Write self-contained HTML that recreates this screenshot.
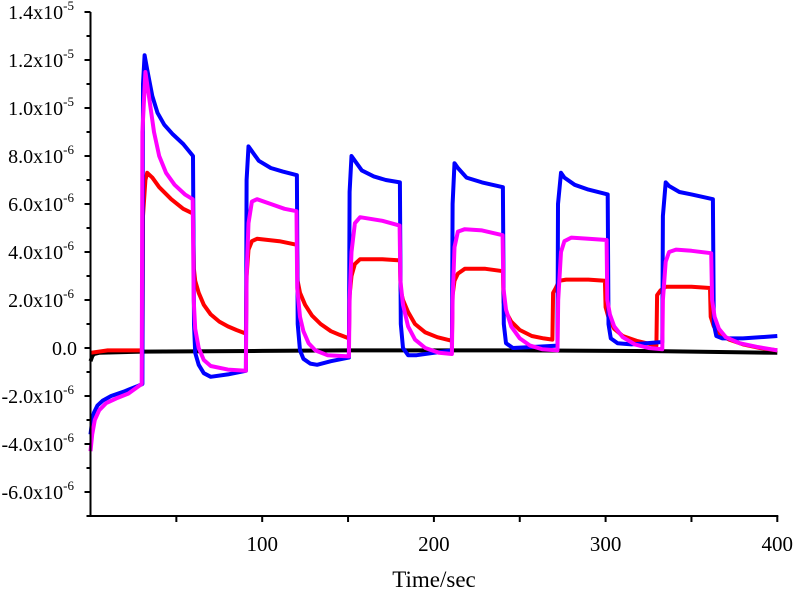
<!DOCTYPE html>
<html><head><meta charset="utf-8">
<style>
html,body{margin:0;padding:0;background:#fff;}
svg{display:block;font-family:"Liberation Serif",serif;}
</style></head>
<body>
<svg id="chart" width="794" height="599" viewBox="0 0 794 599" xmlns="http://www.w3.org/2000/svg">
<g id="series"></g>
<g id="axes"></g>
<text x="434" y="587" font-size="23" text-anchor="middle">Time/sec</text>
</svg>
<script>
// values in units of 1e-6 ; time in seconds
const xTicks = [50,100,150,200,250,300,350,400];
const xLabels = [100,200,300,400];
const yTicks = [-7,-6,-5,-4,-3,-2,-1,0,1,2,3,4,5,6,7,8,9,10,11,12,13,14];
const yLabelVals = [-6,-4,-2,0,2,4,6,8,10,12,14];
const yLabelText = ["-6.0x10","-4.0x10","-2.0x10","0.0","2.0x10","4.0x10","6.0x10","8.0x10","1.0x10","1.2x10","1.4x10"];
const yLabelExp = ["-6","-6","-6","","-6","-6","-6","-6","-5","-5","-5"];

const blackT = [0,1,2,5,30,100,150,250,330,400];
const blackV = [-0.55,-0.35,-0.25,-0.2,-0.15,-0.12,-0.1,-0.1,-0.13,-0.2];

const redT = [0,10,30.3,30.6,32,33,36,40,47,54,59.7,60.2,61,63,66,70,75,80,85,90.5,
 90.9,92,94,97,110,120.2,120.6,122,125,129,134,140,145,150.5,
 150.9,152,154,157,170,180.2,180.6,182,185,189,195,202,210.5,
 210.9,212,214,218,230,240.2,240.6,242,245,250,257,264,269,
 269.4,271,273,277,290,299.6,300,302,305,310,318,329.6,
 330,332,335,350,360.8,361.2,363,367,372,380,390,400];
const redV = [-0.2,-0.1,-0.1,5.5,7.0,7.3,7.1,6.7,6.2,5.8,5.6,3.3,2.8,2.3,1.8,1.4,1.1,0.9,0.75,0.6,
 3.0,4.1,4.45,4.55,4.45,4.3,2.8,2.3,1.8,1.35,1.0,0.7,0.55,0.4,
 2.2,3.0,3.5,3.7,3.7,3.65,2.4,2.0,1.5,1.0,0.65,0.45,0.3,
 2.2,2.8,3.1,3.3,3.3,3.2,1.9,1.5,1.1,0.75,0.5,0.4,0.35,
 2.3,2.5,2.8,2.85,2.85,2.8,1.7,1.2,0.8,0.5,0.3,0.1,
 2.2,2.4,2.55,2.55,2.5,1.3,0.9,0.55,0.35,0.15,0.0,-0.1];

const blueT = [0,1,2,4,7,12,20,27,30.2,30.6,31.5,33,36,39,43,48,54,59.7,60.3,61,63,66,70,80,90.5,
 90.9,92,94,98,105,112,120.2,120.7,122,124,128,132,140,150.5,
 150.9,152,154,158,165,172,180.2,180.7,182,185,190,200,210.5,
 210.9,212,214,219,228,240.2,240.7,242,246,260,272,
 272.3,274,276,282,290,301.2,301.7,303,307,315,333,
 333.4,335,337,343,350,362.5,363,364.5,368,380,400];
const blueV = [-3.6,-3.0,-2.7,-2.4,-2.2,-2.0,-1.8,-1.6,-1.5,11.0,12.2,11.6,10.5,9.8,9.3,8.9,8.5,8.0,1.0,-0.2,-0.7,-1.05,-1.2,-1.1,-0.95,
 7.0,8.4,8.2,7.8,7.5,7.35,7.2,1.0,-0.1,-0.45,-0.65,-0.7,-0.55,-0.4,
 6.5,8.0,7.8,7.4,7.15,7.0,6.9,1.0,0.0,-0.3,-0.3,-0.2,-0.1,
 6.0,7.7,7.5,7.1,6.9,6.7,1.0,0.2,0.0,0.05,0.1,
 6.0,7.3,7.1,6.8,6.6,6.4,1.0,0.4,0.2,0.15,0.25,
 5.5,6.9,6.75,6.5,6.4,6.2,1.0,0.5,0.4,0.4,0.5];

const magT = [0,1,2.5,5,9,15,22,29.8,30.2,32,34,37,40,44,49,55,59.5,60.1,61,63,66,70,80,90.5,
 90.9,92,94,97,105,113,120,120.4,122,124,127,131,138,150.5,
 150.9,152,154,157,170,180,180.5,182,185,189,195,203,210.5,
 210.9,212,214,218,228,240,240.5,242,245,250,256,263,272,
 272.4,274,276,280,290,300.6,301,302.5,305,310,317,325,333,
 333.4,335,337,341,350,361.5,362,363.5,366,370,378,388,400];
const magV = [-4.3,-3.6,-3.0,-2.6,-2.3,-2.1,-1.9,-1.5,9.0,11.5,10.5,9.0,8.0,7.3,6.8,6.4,6.2,2.0,0.8,0.0,-0.5,-0.75,-0.9,-0.95,
 3.0,5.2,6.1,6.2,6.0,5.8,5.7,2.5,1.3,0.7,0.2,-0.1,-0.3,-0.35,
 2.0,4.0,5.2,5.45,5.3,5.1,2.8,1.8,0.9,0.35,0.0,-0.2,-0.25,
 2.0,4.2,4.85,4.95,4.9,4.7,2.5,1.6,0.9,0.4,0.1,-0.05,-0.1,
 2.0,4.0,4.45,4.6,4.55,4.5,2.0,1.4,0.9,0.45,0.15,0.0,-0.05,
 2.0,3.6,4.0,4.1,4.05,3.95,2.0,1.3,0.8,0.45,0.2,0.05,-0.1];

const X0=90.5, XS=1.717, Y0=348, YS=24;
function xs(t){return X0+t*XS;}
function ys(v){return Y0-v*YS;}
const NS="http://www.w3.org/2000/svg";
const sg=document.getElementById('series');
const ag=document.getElementById('axes');

function drawLine(T,V,color,name){
  const p=document.createElementNS(NS,'path');
  let d='';
  const n=Math.min(T.length,V.length);
  for(let i=0;i<n;i++){d+=(i?'L':'M')+xs(T[i]).toFixed(1)+','+ys(V[i]).toFixed(1);}
  p.setAttribute('d',d);
  p.setAttribute('fill','none');
  p.setAttribute('stroke',color);
  p.setAttribute('stroke-width','4');
  p.setAttribute('stroke-linejoin','round');
  
  
  sg.appendChild(p);
}
drawLine(blackT,blackV,'#000','black-series-line');
drawLine(redT,redV,'#ff0000','red-series-line');
drawLine(blueT,blueV,'#0000ff','blue-series-line');
drawLine(magT,magV,'#ff00ff','magenta-series-line');

function addLine(x1,y1,x2,y2,w,name){
  const l=document.createElementNS(NS,'line');
  l.setAttribute('x1',x1);l.setAttribute('y1',y1);l.setAttribute('x2',x2);l.setAttribute('y2',y2);
  l.setAttribute('stroke','#000');l.setAttribute('stroke-width',w);
  
  
  ag.appendChild(l);
}
const yBottomPx=ys(-7), yTopPx=ys(14);
addLine(X0,yTopPx,X0,yBottomPx+1,2,'y-axis-line');
addLine(X0-1,yBottomPx,xs(400)+1,yBottomPx,2,'x-axis-line');
xTicks.forEach(t=>addLine(xs(t),yBottomPx,xs(t),yBottomPx+6,2,'x-tick'));
yTicks.forEach(v=>{const major=yLabelVals.indexOf(v)>=0;addLine(X0-(major?6:4),ys(v),X0,ys(v),2,'y-tick');});
xLabels.forEach(t=>{
  const tx=document.createElementNS(NS,'text');
  tx.setAttribute('x',xs(t));tx.setAttribute('y',yBottomPx+35);
  tx.setAttribute('font-size','21');tx.setAttribute('text-anchor','middle');
  tx.textContent=t;
  
  
  ag.appendChild(tx);
});
yLabelVals.forEach((v,i)=>{
  const tx=document.createElementNS(NS,'text');
  tx.setAttribute('x',74);tx.setAttribute('y',ys(v)+7);
  tx.setAttribute('font-size','20');tx.setAttribute('text-anchor','end');
  const a=document.createElementNS(NS,'tspan');a.textContent=yLabelText[i];tx.appendChild(a);
  if(yLabelExp[i]){const b=document.createElementNS(NS,'tspan');b.setAttribute('font-size','13');b.setAttribute('dy','-9');b.textContent=yLabelExp[i];tx.appendChild(b);}
  else{tx.setAttribute('x',77);}
  
  
  ag.appendChild(tx);
});
</script>
</body></html>
